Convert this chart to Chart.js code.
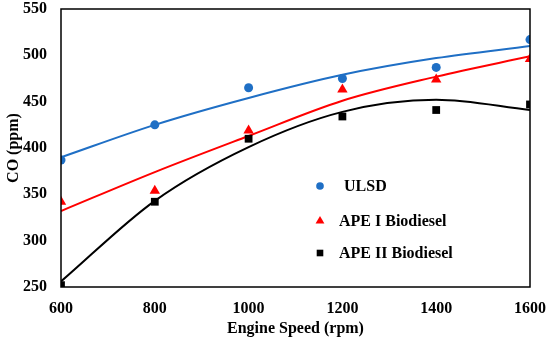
<!DOCTYPE html>
<html>
<head>
<meta charset="utf-8">
<script src="https://cdn.jsdelivr.net/npm/chart.js@4"></script>
<style>
  html, body { margin: 0; padding: 0; background: #fff; }
  #wrap { width: 550px; height: 342px; }
</style>
</head>
<body>
<div id="wrap"><canvas id="coChart"></canvas></div>
<script>
// engine speeds (rpm)
var speeds = [600, 800, 1000, 1200, 1400, 1600];
// measured CO (ppm)
var ulsd = [387, 425, 465, 475, 487, 517];
var apeI = [342, 354, 419, 463, 474, 496];
var apeII = [252, 342, 410, 434, 441, 447];
// trendlines at each speed
var ulsdTrend = [390, 425, 454, 479, 497, 510];
var apeITrend = [332, 374, 413, 451, 477, 499];
var apeIITrend = [256, 343, 401, 439, 452, 441];

var xTicks = [600, 800, 1000, 1200, 1400, 1600];
var yTicks = [250, 300, 350, 400, 450, 500, 550];

function pts(ys) {
  return speeds.map(function (x, i) { return { x: x, y: ys[i] }; });
}

var serif = "'Liberation Serif', 'Times New Roman', serif";

var frame = {
  id: "frame",
  afterDraw: function (chart) {
    var a = chart.chartArea, c = chart.ctx;
    c.save();
    c.strokeStyle = "#000";
    c.lineWidth = 1.5;
    c.strokeRect(a.left, a.top, a.right - a.left, a.bottom - a.top);
    // legend inside the plot
    var items = [
      { ds: 0, y: 186, tx: 344 },
      { ds: 1, y: 221, tx: 339 },
      { ds: 2, y: 253, tx: 339 }
    ];
    c.font = "bold 16px " + serif;
    c.textBaseline = "middle";
    items.forEach(function (it) {
      var d = chart.data.datasets[it.ds];
      c.fillStyle = d.backgroundColor;
      c.strokeStyle = d.backgroundColor;
      Chart.helpers.drawPoint(c, {
        pointStyle: d.pointStyle,
        radius: d.pointRadius * 0.85,
        borderWidth: 0
      }, 320, it.y);
      c.fillStyle = "#000";
      c.fillText(d.label, it.tx, it.y + 1);
    });
    c.restore();
  }
};

new Chart(document.getElementById("coChart").getContext("2d"), {
  type: "scatter",
  data: {
    datasets: [
      { label: "ULSD", data: pts(ulsd), pointStyle: "circle", pointRadius: 4.5,
        backgroundColor: "#1f6fc5", borderColor: "#1f6fc5", borderWidth: 0, order: 1 },
      { label: "APE I Biodiesel", data: pts(apeI), pointStyle: "triangle", pointRadius: 6,
        backgroundColor: "#ff0000", borderColor: "#ff0000", borderWidth: 0, order: 1 },
      { label: "APE II Biodiesel", data: pts(apeII), pointStyle: "rect", pointRadius: 5.5,
        backgroundColor: "#000000", borderColor: "#000000", borderWidth: 0, order: 1 },
      { label: "t1", data: pts(ulsdTrend), type: "line", showLine: true, pointRadius: 0,
        borderColor: "#1f6fc5", borderWidth: 2, cubicInterpolationMode: "monotone", fill: false, order: 2 },
      { label: "t2", data: pts(apeITrend), type: "line", showLine: true, pointRadius: 0,
        borderColor: "#ff0000", borderWidth: 2, cubicInterpolationMode: "monotone", fill: false, order: 2 },
      { label: "t3", data: pts(apeIITrend), type: "line", showLine: true, pointRadius: 0,
        borderColor: "#000000", borderWidth: 2, cubicInterpolationMode: "monotone", fill: false, order: 2 }
    ]
  },
  options: {
    responsive: true,
    maintainAspectRatio: false,
    animation: false,
    layout: { padding: { top: 9, right: 20, left: 0, bottom: 0 } },
    plugins: {
      legend: { display: false },
      tooltip: { enabled: false }
    },
    scales: {
      x: {
        type: "linear",
        min: 600, max: 1600,
        afterBuildTicks: function (s) { s.ticks = xTicks.map(function (v) { return { value: v }; }); },
        afterFit: function (s) { s.height = 55; s.paddingLeft = 0; s.paddingRight = 0; },
        grid: { display: false, drawTicks: false },
        border: { display: false },
        ticks: { color: "#000", padding: 12, callback: function (v) { return String(v); },
          font: { family: serif, size: 16, weight: "bold" } },
        title: { display: true, text: "Engine Speed (rpm)", color: "#000", padding: { top: 7 },
          font: { family: serif, size: 16, weight: "bold" } }
      },
      y: {
        min: 250, max: 550,
        afterBuildTicks: function (s) { s.ticks = yTicks.map(function (v) { return { value: v }; }); },
        afterFit: function (s) { s.width = 61; s.paddingTop = 0; s.paddingBottom = 0; },
        grid: { display: false, drawTicks: false },
        border: { display: false },
        ticks: { color: "#000", padding: 14, callback: function (v) { return String(v); },
          font: { family: serif, size: 16, weight: "bold" } },
        title: { display: true, text: "CO (ppm)", color: "#000", padding: { bottom: 0 },
          font: { family: serif, size: 16, weight: "bold" } }
      }
    }
  },
  plugins: [frame]
});
</script>
</body>
</html>
